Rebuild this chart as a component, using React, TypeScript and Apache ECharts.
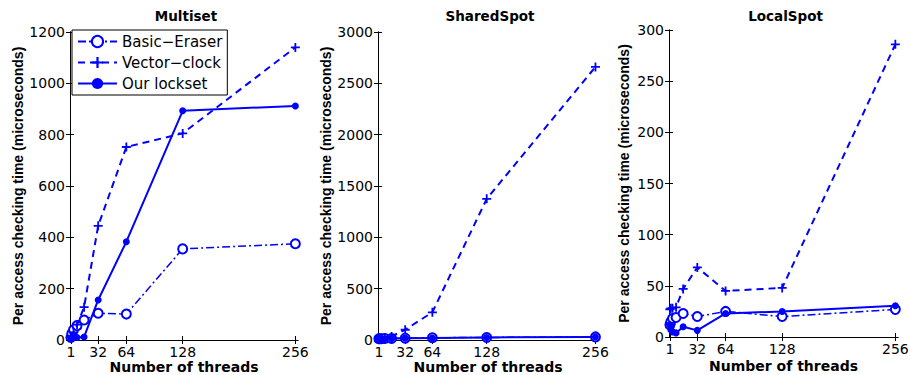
import React, { useEffect, useRef } from "react";
import * as echarts from "echarts";

const threads = [1, 2, 4, 8, 16, 32, 64, 128, 256];
const xTickLabels = [1, 32, 64, 128, 256];
const seriesNames = ["Basic\u2212Eraser", "Vector\u2212clock", "Our lockset"];
const panelTitles = ["Multiset", "SharedSpot", "LocalSpot"];

const multisetEraser = [10, 25, 40, 56, 78, 104, 101, 355, 375];
const multisetVector = [10, 15, 30, 60, 128, 445, 752, 805, 1140];
const multisetLockset = [8, 10, 15, 10, 12, 156, 383, 893, 912];

const sharedEraser = [12, 12, 12, 15, 15, 18, 22, 25, 30];
const sharedVector = [10, 12, 15, 20, 35, 100, 270, 1375, 2660];
const sharedLockset = [10, 10, 10, 12, 15, 18, 20, 25, 30];

const localEraser = [12, 15, 18, 19, 23, 20, 25, 20, 27];
const localVector = [27, 28, 28, 29, 47, 68, 45, 48, 286];
const localLockset = [12, 7, 5, 4, 10, 6.5, 23, 25, 30.5];

const yMax = [1200, 3000, 300];
const yInterval = [200, 500, 50];

const panelData = [
  [multisetEraser, multisetVector, multisetLockset],
  [sharedEraser, sharedVector, sharedLockset],
  [localEraser, localVector, localLockset],
];

const grids = [
  { left: 70, top: 32, width: 228, height: 308 },
  { left: 378, top: 32, width: 220, height: 308 },
  { left: 669, top: 30, width: 229, height: 307 },
];
const yNameGaps = [45, 45, 38];
const xNameGaps = [19, 19, 21];

const FONT = "'Liberation Sans', Arial, Helvetica, sans-serif";
const WFONT = "'DejaVu Sans', 'Liberation Sans', sans-serif";
const BLUE = "#0000ff";
const PLUS = "path://M0,4L10,4L10,6L0,6Z M4,0L6,0L6,10L4,10Z";

export default function App() {
  const ref = useRef<HTMLDivElement>(null);
  useEffect(() => {
    if (!ref.current) return;
    const chart = echarts.init(ref.current, undefined, { renderer: "svg" });

    const xAxes: any[] = [];
    const yAxes: any[] = [];
    const series: any[] = [];
    const graphics: any[] = [];
    const fmt = (v: number) => String(v);

    grids.forEach((g, i) => {
      xAxes.push({
        type: "value",
        gridIndex: i,
        min: 0,
        max: 259,
        position: "bottom",
        name: "Number of threads",
        nameLocation: "middle",
        nameGap: xNameGaps[i],
        nameMoveOverlap: false,
        nameTextStyle: { fontFamily: WFONT, fontWeight: "bold", fontSize: 14, color: "#000", lineHeight: 15 },
        axisLine: { show: true, lineStyle: { color: "#000", width: 1 } },
        axisTick: { show: true, inside: true, length: 4, customValues: xTickLabels, lineStyle: { color: "#000" } },
        axisLabel: { show: true, customValues: xTickLabels, formatter: fmt, margin: 5, fontFamily: WFONT, fontSize: 14, color: "#000" },
        splitLine: { show: false },
      });
      xAxes.push({
        type: "value",
        gridIndex: i,
        min: 0,
        max: 259,
        position: "top",
        axisLine: { show: true, lineStyle: { color: "#000", width: 1 } },
        axisTick: { show: true, inside: true, length: 4, customValues: xTickLabels, lineStyle: { color: "#000" } },
        axisLabel: { show: false },
        splitLine: { show: false },
      });
      yAxes.push({
        type: "value",
        gridIndex: i,
        min: 0,
        max: yMax[i],
        interval: yInterval[i],
        position: "left",
        name: "Per access checking time (microseconds)",
        nameLocation: "middle",
        nameGap: yNameGaps[i],
        nameMoveOverlap: false,
        nameTextStyle: { fontFamily: FONT, fontWeight: "bold", fontSize: 14, color: "#000" },
        axisLine: { show: true, lineStyle: { color: "#000", width: 1 } },
        axisTick: { show: true, inside: true, length: 4, lineStyle: { color: "#000" } },
        axisLabel: { margin: 5, formatter: fmt, fontFamily: WFONT, fontSize: 14, color: "#000" },
        splitLine: { show: false },
      });
      yAxes.push({
        type: "value",
        gridIndex: i,
        min: 0,
        max: yMax[i],
        interval: yInterval[i],
        position: "right",
        axisLine: { show: true, lineStyle: { color: "#000", width: 1 } },
        axisTick: { show: true, inside: true, length: 4, lineStyle: { color: "#000" } },
        axisLabel: { show: false },
        splitLine: { show: false },
      });

      const [er, vc, ol] = panelData[i];
      const xi = i * 2;
      series.push({
        name: seriesNames[0],
        type: "line",
        xAxisIndex: xi,
        yAxisIndex: xi,
        data: threads.map((t, k) => [t, er[k]]),
        symbol: "emptyCircle",
        symbolSize: 9,
        showAllSymbol: true,
        lineStyle: { color: BLUE, width: 1.5, type: [8, 3, 2, 3] },
        itemStyle: { color: BLUE, borderColor: BLUE, borderWidth: 2 },
        z: 3,
      });
      series.push({
        name: seriesNames[1],
        type: "line",
        xAxisIndex: xi,
        yAxisIndex: xi,
        data: threads.map((t, k) => [t, vc[k]]),
        symbol: PLUS,
        symbolSize: 9,
        showAllSymbol: true,
        lineStyle: { color: BLUE, width: 2, type: [7, 5] },
        itemStyle: { color: BLUE },
        z: 4,
      });
      series.push({
        name: seriesNames[2],
        type: "line",
        xAxisIndex: xi,
        yAxisIndex: xi,
        data: threads.map((t, k) => [t, ol[k]]),
        symbol: "circle",
        symbolSize: 7,
        showAllSymbol: true,
        lineStyle: { color: BLUE, width: 2, type: "solid" },
        itemStyle: { color: BLUE },
        z: 5,
      });

      graphics.push({
        type: "text",
        x: g.left + g.width / 2 + 2,
        y: 16,
        style: {
          text: panelTitles[i],
          align: "center",
          verticalAlign: "middle",
          fontFamily: WFONT,
          fontWeight: "bold",
          fontSize: 13.5,
          fill: "#000",
        },
      });
    });

    chart.setOption({
      animation: false,
      backgroundColor: "#fff",
      grid: grids.map((g) => ({ ...g, containLabel: false, outerBoundsMode: "none" })),
      xAxis: xAxes,
      yAxis: yAxes,
      series,
      graphic: graphics,
      legend: {
        data: seriesNames,
        orient: "vertical",
        left: 72,
        top: 30,
        itemWidth: 39,
        itemHeight: 14,
        itemGap: 6,
        padding: [4, 5, 4, 5],
        backgroundColor: "#fff",
        borderColor: "#000",
        borderWidth: 1,
        borderRadius: 0,
        textStyle: { fontFamily: WFONT, fontSize: 15, color: "#000" },
        selectedMode: false,
      },
    });
    return () => chart.dispose();
  }, []);
  return <div ref={ref} style={{ width: 910, height: 375, position: "absolute", left: 0, top: 0 }} />;
}
